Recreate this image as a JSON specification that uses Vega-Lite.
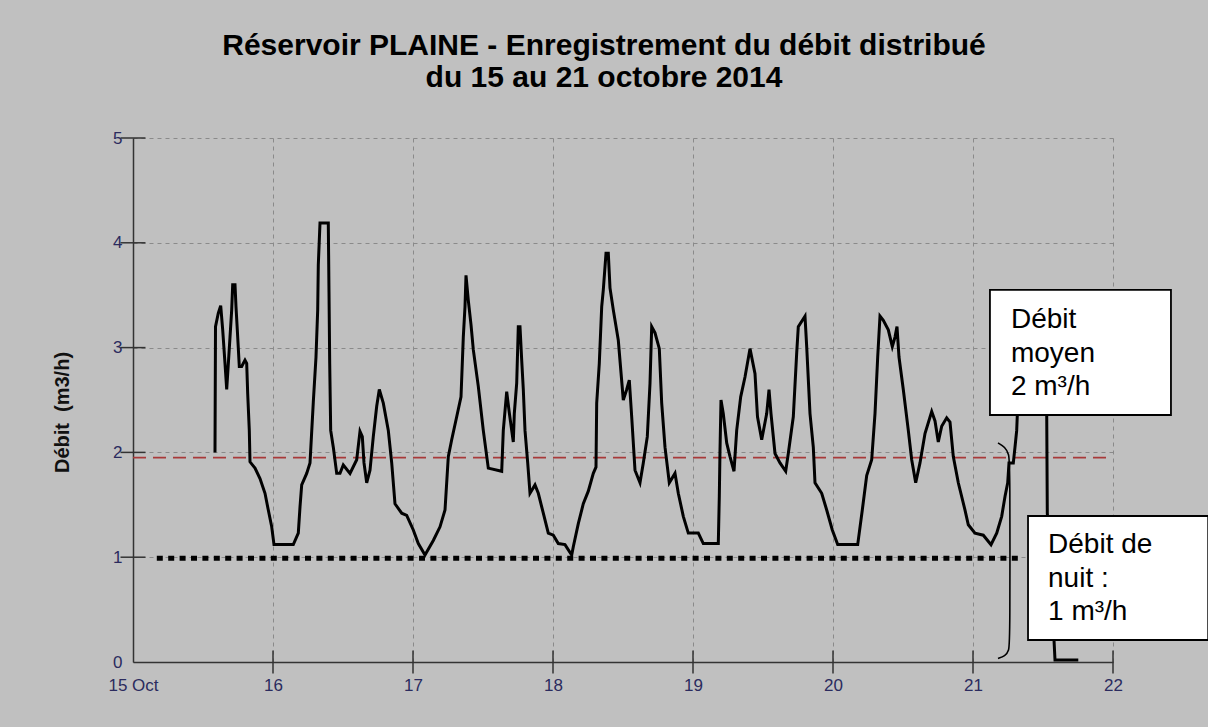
{
  "$schema": "https://vega.github.io/schema/vega-lite/v6.json",
  "width": 980,
  "height": 524,
  "autosize": {"type": "none"},
  "padding": {"left": 133, "top": 138, "right": 95, "bottom": 65},
  "background": "#c0c0c0",
  "title": {
    "text": ["Réservoir PLAINE - Enregistrement du débit distribué", "du 15 au 21 octobre 2014"],
    "font": "Liberation Sans",
    "fontSize": 30,
    "fontWeight": "bold",
    "color": "#000000",
    "anchor": "middle",
    "dx": -19,
    "offset": 36,
    "lineHeight": 32
  },
  "config": {
    "view": {"stroke": null},
    "font": "Liberation Sans"
  },
  "datasets": {
    "debit": [
      {"jour": 15.5857, "debit": 2.00}, {"jour": 15.5893, "debit": 3.20}, {"jour": 15.6093, "debit": 3.33},
      {"jour": 15.6264, "debit": 3.40}, {"jour": 15.6407, "debit": 3.17}, {"jour": 15.6571, "debit": 2.85},
      {"jour": 15.6693, "debit": 2.60}, {"jour": 15.6929, "debit": 3.10}, {"jour": 15.7050, "debit": 3.36},
      {"jour": 15.7121, "debit": 3.60}, {"jour": 15.7286, "debit": 3.60}, {"jour": 15.7357, "debit": 3.39},
      {"jour": 15.7450, "debit": 3.17}, {"jour": 15.7593, "debit": 2.82}, {"jour": 15.7764, "debit": 2.82},
      {"jour": 15.8000, "debit": 2.88}, {"jour": 15.8121, "debit": 2.85}, {"jour": 15.8193, "debit": 2.56},
      {"jour": 15.8307, "debit": 2.21}, {"jour": 15.8357, "debit": 1.91}, {"jour": 15.8714, "debit": 1.85},
      {"jour": 15.9071, "debit": 1.75}, {"jour": 15.9429, "debit": 1.61}, {"jour": 15.9664, "debit": 1.45},
      {"jour": 15.9907, "debit": 1.29}, {"jour": 16.0071, "debit": 1.12}, {"jour": 16.1450, "debit": 1.12},
      {"jour": 16.1807, "debit": 1.23}, {"jour": 16.1929, "debit": 1.48}, {"jour": 16.2050, "debit": 1.69},
      {"jour": 16.2407, "debit": 1.80}, {"jour": 16.2643, "debit": 1.90}, {"jour": 16.2879, "debit": 2.48},
      {"jour": 16.3071, "debit": 2.91}, {"jour": 16.3193, "debit": 3.36}, {"jour": 16.3236, "debit": 3.79},
      {"jour": 16.3357, "debit": 4.19}, {"jour": 16.3950, "debit": 4.19}, {"jour": 16.4000, "debit": 3.53},
      {"jour": 16.4050, "debit": 2.85}, {"jour": 16.4121, "debit": 2.21}, {"jour": 16.4307, "debit": 2.05},
      {"jour": 16.4550, "debit": 1.80}, {"jour": 16.4786, "debit": 1.80}, {"jour": 16.5021, "debit": 1.88},
      {"jour": 16.5500, "debit": 1.80}, {"jour": 16.5979, "debit": 1.93}, {"jour": 16.6214, "debit": 2.20},
      {"jour": 16.6379, "debit": 2.15}, {"jour": 16.6500, "debit": 1.90}, {"jour": 16.6693, "debit": 1.71},
      {"jour": 16.6929, "debit": 1.83}, {"jour": 16.7164, "debit": 2.15}, {"jour": 16.7407, "debit": 2.44},
      {"jour": 16.7593, "debit": 2.60}, {"jour": 16.7879, "debit": 2.47}, {"jour": 16.8236, "debit": 2.21},
      {"jour": 16.8479, "debit": 1.90}, {"jour": 16.8714, "debit": 1.51}, {"jour": 16.9193, "debit": 1.42},
      {"jour": 16.9550, "debit": 1.40}, {"jour": 17.0021, "debit": 1.26}, {"jour": 17.0379, "debit": 1.13},
      {"jour": 17.0857, "debit": 1.02}, {"jour": 17.1450, "debit": 1.16}, {"jour": 17.1929, "debit": 1.29},
      {"jour": 17.2286, "debit": 1.45}, {"jour": 17.2521, "debit": 1.96}, {"jour": 17.2764, "debit": 2.12},
      {"jour": 17.3121, "debit": 2.34}, {"jour": 17.3429, "debit": 2.53}, {"jour": 17.3593, "debit": 3.10},
      {"jour": 17.3714, "debit": 3.39}, {"jour": 17.3786, "debit": 3.69}, {"jour": 17.3950, "debit": 3.45},
      {"jour": 17.4143, "debit": 3.22}, {"jour": 17.4307, "debit": 2.98}, {"jour": 17.4664, "debit": 2.63},
      {"jour": 17.5021, "debit": 2.21}, {"jour": 17.5379, "debit": 1.85}, {"jour": 17.6336, "debit": 1.82},
      {"jour": 17.6450, "debit": 2.21}, {"jour": 17.6693, "debit": 2.58}, {"jour": 17.6857, "debit": 2.40},
      {"jour": 17.7050, "debit": 2.21}, {"jour": 17.7164, "debit": 2.10}, {"jour": 17.7236, "debit": 2.37},
      {"jour": 17.7407, "debit": 2.66}, {"jour": 17.7521, "debit": 3.20}, {"jour": 17.7643, "debit": 3.20},
      {"jour": 17.7764, "debit": 2.88}, {"jour": 17.7879, "debit": 2.60}, {"jour": 17.8000, "debit": 2.21},
      {"jour": 17.8193, "debit": 1.90}, {"jour": 17.8357, "debit": 1.61}, {"jour": 17.8714, "debit": 1.69},
      {"jour": 17.8950, "debit": 1.61}, {"jour": 17.9307, "debit": 1.42}, {"jour": 17.9664, "debit": 1.23},
      {"jour": 18.0021, "debit": 1.21}, {"jour": 18.0379, "debit": 1.13}, {"jour": 18.0857, "debit": 1.12},
      {"jour": 18.1336, "debit": 1.02}, {"jour": 18.1450, "debit": 1.10}, {"jour": 18.1807, "debit": 1.32},
      {"jour": 18.2164, "debit": 1.51}, {"jour": 18.2521, "debit": 1.63}, {"jour": 18.2879, "debit": 1.80},
      {"jour": 18.3071, "debit": 1.86}, {"jour": 18.3121, "debit": 2.47}, {"jour": 18.3307, "debit": 2.85},
      {"jour": 18.3479, "debit": 3.39}, {"jour": 18.3593, "debit": 3.55}, {"jour": 18.3786, "debit": 3.90},
      {"jour": 18.3950, "debit": 3.90}, {"jour": 18.4071, "debit": 3.57}, {"jour": 18.4307, "debit": 3.36},
      {"jour": 18.4664, "debit": 3.07}, {"jour": 18.5021, "debit": 2.50}, {"jour": 18.5264, "debit": 2.60},
      {"jour": 18.5450, "debit": 2.69}, {"jour": 18.5621, "debit": 2.34}, {"jour": 18.5857, "debit": 1.83},
      {"jour": 18.6214, "debit": 1.71}, {"jour": 18.6450, "debit": 1.90}, {"jour": 18.6736, "debit": 2.15},
      {"jour": 18.6929, "debit": 2.66}, {"jour": 18.7050, "debit": 3.20}, {"jour": 18.7286, "debit": 3.14},
      {"jour": 18.7593, "debit": 2.99}, {"jour": 18.7764, "debit": 2.47}, {"jour": 18.8000, "debit": 2.05},
      {"jour": 18.8307, "debit": 1.71}, {"jour": 18.8714, "debit": 1.80}, {"jour": 18.8950, "debit": 1.61},
      {"jour": 18.9307, "debit": 1.39}, {"jour": 18.9664, "debit": 1.23}, {"jour": 19.0379, "debit": 1.23},
      {"jour": 19.0736, "debit": 1.13}, {"jour": 19.1807, "debit": 1.13}, {"jour": 19.1879, "debit": 1.58},
      {"jour": 19.1929, "debit": 2.02}, {"jour": 19.2000, "debit": 2.50}, {"jour": 19.2164, "debit": 2.37},
      {"jour": 19.2407, "debit": 2.09}, {"jour": 19.2643, "debit": 1.96}, {"jour": 19.2929, "debit": 1.82},
      {"jour": 19.3121, "debit": 2.21}, {"jour": 19.3407, "debit": 2.53}, {"jour": 19.3714, "debit": 2.72},
      {"jour": 19.4071, "debit": 2.99}, {"jour": 19.4429, "debit": 2.75}, {"jour": 19.4607, "debit": 2.34},
      {"jour": 19.4907, "debit": 2.12}, {"jour": 19.5264, "debit": 2.37}, {"jour": 19.5429, "debit": 2.60},
      {"jour": 19.5571, "debit": 2.37}, {"jour": 19.5857, "debit": 1.99}, {"jour": 19.6214, "debit": 1.90},
      {"jour": 19.6621, "debit": 1.82}, {"jour": 19.6807, "debit": 1.99}, {"jour": 19.7164, "debit": 2.34},
      {"jour": 19.7407, "debit": 2.95}, {"jour": 19.7521, "debit": 3.20}, {"jour": 19.8000, "debit": 3.30},
      {"jour": 19.8121, "debit": 3.01}, {"jour": 19.8357, "debit": 2.37}, {"jour": 19.8593, "debit": 2.05},
      {"jour": 19.8714, "debit": 1.71}, {"jour": 19.9193, "debit": 1.61}, {"jour": 19.9550, "debit": 1.45},
      {"jour": 19.9950, "debit": 1.26}, {"jour": 20.0336, "debit": 1.12}, {"jour": 20.1764, "debit": 1.12},
      {"jour": 20.2093, "debit": 1.45}, {"jour": 20.2407, "debit": 1.78}, {"jour": 20.2764, "debit": 1.93},
      {"jour": 20.3000, "debit": 2.37}, {"jour": 20.3193, "debit": 2.91}, {"jour": 20.3357, "debit": 3.30},
      {"jour": 20.3593, "debit": 3.26}, {"jour": 20.3950, "debit": 3.17}, {"jour": 20.4236, "debit": 3.01},
      {"jour": 20.4429, "debit": 3.10}, {"jour": 20.4571, "debit": 3.20}, {"jour": 20.4714, "debit": 2.91},
      {"jour": 20.5021, "debit": 2.60}, {"jour": 20.5379, "debit": 2.21}, {"jour": 20.5621, "debit": 1.93},
      {"jour": 20.5907, "debit": 1.71}, {"jour": 20.6214, "debit": 1.90}, {"jour": 20.6571, "debit": 2.18},
      {"jour": 20.7050, "debit": 2.39}, {"jour": 20.7286, "debit": 2.30}, {"jour": 20.7521, "debit": 2.10},
      {"jour": 20.7764, "debit": 2.25}, {"jour": 20.8121, "debit": 2.33}, {"jour": 20.8357, "debit": 2.29},
      {"jour": 20.8593, "debit": 1.96}, {"jour": 20.8950, "debit": 1.71}, {"jour": 20.9429, "debit": 1.45},
      {"jour": 20.9664, "debit": 1.31}, {"jour": 21.0143, "debit": 1.23}, {"jour": 21.0736, "debit": 1.21},
      {"jour": 21.1286, "debit": 1.12}, {"jour": 21.1693, "debit": 1.23}, {"jour": 21.2050, "debit": 1.39},
      {"jour": 21.2286, "debit": 1.58}, {"jour": 21.2479, "debit": 1.71}, {"jour": 21.2571, "debit": 1.90},
      {"jour": 21.2879, "debit": 1.90}, {"jour": 21.3000, "debit": 2.05}, {"jour": 21.3121, "debit": 2.21},
      {"jour": 21.3193, "debit": 2.45}, {"jour": 21.3286, "debit": 3.00}, {"jour": 21.5071, "debit": 3.00},
      {"jour": 21.5264, "debit": 2.40}, {"jour": 21.5307, "debit": 1.42}, {"jour": 21.5643, "debit": 0.80},
      {"jour": 21.5786, "debit": 0.21}, {"jour": 21.5857, "debit": 0.02}, {"jour": 21.7521, "debit": 0.02}
    ],
    "moyenne": [{"jour": 15, "jour2": 22, "debit": 1.95}],
    "nuit": [{"jour": 15.17, "jour2": 21.35, "debit": 0.99}],
    "graduationsX": [
      {"jour": 16, "debit": 0}, {"jour": 17, "debit": 0}, {"jour": 18, "debit": 0}, {"jour": 19, "debit": 0},
      {"jour": 20, "debit": 0}, {"jour": 21, "debit": 0}, {"jour": 22, "debit": 0}
    ],
    "graduationsY": [
      {"jour": 15, "debit": 1}, {"jour": 15, "debit": 2}, {"jour": 15, "debit": 3}, {"jour": 15, "debit": 4}, {"jour": 15, "debit": 5}
    ],
    "accolade": [
      {"ordre": 1, "jour": 21.1786, "debit": 2.0897},
      {"ordre": 2, "jour": 21.2286, "debit": 2.0515},
      {"ordre": 3, "jour": 21.2571, "debit": 1.9847},
      {"ordre": 4, "jour": 21.2643, "debit": 1.8798},
      {"ordre": 5, "jour": 21.2643, "debit": 0.2099},
      {"ordre": 6, "jour": 21.2571, "debit": 0.1050},
      {"ordre": 7, "jour": 21.2286, "debit": 0.0573},
      {"ordre": 8, "jour": 21.1786, "debit": 0.0334}
    ],
    "cadres": [
      {"jour": 21.121, "jour2": 22.414, "debit": 3.55, "debit2": 2.357},
      {"jour": 21.393, "jour2": 22.68, "debit": 1.393, "debit2": 0.21}
    ],
    "textes": [
      {"jour": 21.271, "debit": 3.187, "texte": "Débit\nmoyen\n2 m³/h"},
      {"jour": 21.536, "debit": 1.04, "texte": "Débit de\nnuit :\n1 m³/h"}
    ]
  },
  "encoding": {
    "x": {
      "field": "jour",
      "type": "quantitative",
      "scale": {"domain": [15, 22], "nice": false, "zero": false},
      "axis": {
        "title": null,
        "values": [15, 16, 17, 18, 19, 20, 21, 22],
        "labelExpr": "datum.value == 15 ? '15 Oct' : format(datum.value, 'd')",
        "grid": true,
        "gridColor": "#8a8a8a",
        "gridDash": [4, 4],
        "gridWidth": 1,
        "ticks": false,
        "domainColor": "#333333",
        "domainWidth": 1.5,
        "labelFont": "Liberation Sans",
        "labelFontSize": 17,
        "labelColor": "#2b2b5e",
        "labelPadding": 15,
        "labelFlush": false,
        "labelOverlap": false,
        "labelBound": false
      }
    },
    "y": {
      "field": "debit",
      "type": "quantitative",
      "scale": {"domain": [0, 5], "nice": false},
      "axis": {
        "title": "Débit\u00a0\u00a0(m3/h)",
        "values": [0, 1, 2, 3, 4, 5],
        "grid": true,
        "gridColor": "#8a8a8a",
        "gridDash": [4, 4],
        "gridWidth": 1,
        "ticks": false,
        "domainColor": "#333333",
        "domainWidth": 1.5,
        "labelFont": "Liberation Sans",
        "labelFontSize": 17,
        "labelColor": "#2b2b5e",
        "labelPadding": 11,
        "titleFont": "Liberation Sans",
        "titleFontSize": 20,
        "titleFontWeight": "bold",
        "titleColor": "#111111",
        "titleAngle": -90,
        "titleAlign": "center",
        "titleBaseline": "middle",
        "titleX": -71,
        "titleY": 274
      }
    }
  },
  "layer": [
    {
      "data": {"name": "moyenne"},
      "mark": {"type": "rule", "color": "#a83a3a", "strokeWidth": 1.6, "strokeDash": [13, 7]},
      "encoding": {"x2": {"field": "jour2"}}
    },
    {
      "data": {"name": "nuit"},
      "mark": {"type": "rule", "color": "#000000", "strokeWidth": 5, "strokeDash": [6, 5.4]},
      "encoding": {"x2": {"field": "jour2"}}
    },
    {
      "data": {"name": "debit"},
      "mark": {"type": "line", "color": "#000000", "strokeWidth": 3, "interpolate": "linear"},
      "encoding": {}
    },
    {
      "data": {"name": "graduationsX"},
      "mark": {"type": "tick", "orient": "vertical", "size": 23, "thickness": 1.5, "color": "#333333", "opacity": 1},
      "encoding": {}
    },
    {
      "data": {"name": "graduationsY"},
      "mark": {"type": "tick", "orient": "horizontal", "size": 25, "thickness": 1.5, "color": "#333333", "opacity": 1},
      "encoding": {}
    },
    {
      "data": {"name": "accolade"},
      "mark": {"type": "line", "color": "#000000", "strokeWidth": 1.6, "interpolate": "basis"},
      "encoding": {"order": {"field": "ordre", "type": "quantitative"}}
    },
    {
      "data": {"name": "cadres"},
      "mark": {"type": "rect", "fill": "#ffffff", "stroke": "#000000", "strokeWidth": 1.8},
      "encoding": {"x2": {"field": "jour2"}, "y2": {"field": "debit2"}}
    },
    {
      "data": {"name": "textes"},
      "mark": {"type": "text", "font": "Liberation Sans", "fontSize": 28, "color": "#000000", "align": "left", "baseline": "alphabetic", "lineBreak": "\n", "lineHeight": 33.5},
      "encoding": {"text": {"field": "texte"}}
    }
  ]
}
